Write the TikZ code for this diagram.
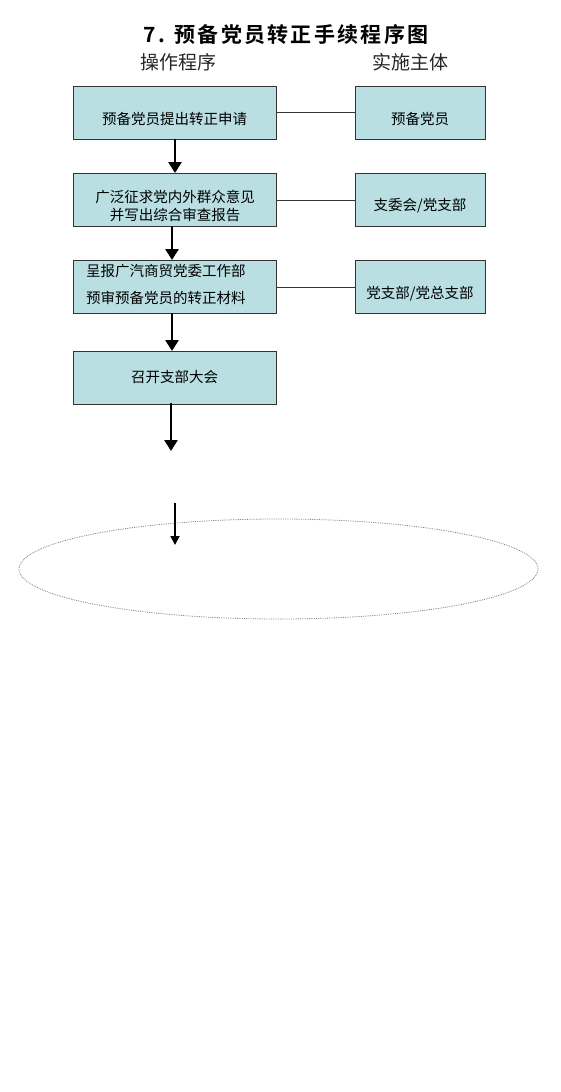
\documentclass[tikz,border=0pt]{standalone}
\usepackage{fontspec}
\setmainfont{Liberation Sans}
\newfontfamily\cjk{Noto Sans CJK SC}
\newfontfamily\cjkb[LetterSpace=11]{Noto Sans CJK SC Bold}
\usetikzlibrary{arrows.meta,shapes.geometric}
\definecolor{boxfill}{HTML}{B9DFE3}
\begin{document}
\begin{tikzpicture}[x=1pt,y=-1pt,
  stepbox/.style={draw=black!80,line width=0.8pt,fill=boxfill,minimum width=203pt,minimum height=53pt,inner sep=0pt,anchor=north west},
  actorbox/.style={draw=black!80,line width=0.8pt,fill=boxfill,minimum width=130pt,minimum height=53pt,inner sep=0pt,anchor=north west},
  boxtext/.style={font=\cjk\fontsize{14.5}{18}\selectfont,inner sep=0pt},
  flow/.style={line width=2.6pt,-{Triangle[length=11pt,width=13pt]}},
  thinflow/.style={line width=1.8pt,-{Triangle[length=9pt,width=9pt]}},
  link/.style={line width=0.8pt,black!80}]
\useasboundingbox (0,0) rectangle (560,1092);
\node[font=\cjkb\fontsize{21}{24}\selectfont] (title) at (286,35) {7. 预备党员转正手续程序图};
\node[font=\cjk\fontsize{19}{22}\selectfont,text=black!85] (h1) at (178,62) {操作程序};
\node[font=\cjk\fontsize{19}{22}\selectfont,text=black!85] (h2) at (410,62) {实施主体};
\node[stepbox] (s1) at (73,86) {};
\node[boxtext] (t1) at (174.5,119) {预备党员提出转正申请};
\node[actorbox] (a1) at (355,86) {};
\node[boxtext] (ta1) at (420,119) {预备党员};
\node[stepbox] (s2) at (73,173) {};
\node[boxtext,align=center,font=\cjk\fontsize{14.5}{18}\selectfont] (t2) at (175,206) {广泛征求党内外群众意见\\并写出综合审查报告};
\node[actorbox] (a2) at (355,173) {};
\node[boxtext] (ta2) at (420,206) {支委会/党支部};
\node[stepbox] (s3) at (73,260) {};
\node[boxtext,anchor=west] (t3a) at (86,271) {呈报广汽商贸党委工作部};
\node[boxtext,anchor=west] (t3b) at (86,298) {预审预备党员的转正材料};
\node[actorbox] (a3) at (355,260) {};
\node[boxtext] (ta3) at (420,294) {党支部/党总支部};
\node[stepbox] (s4) at (73,351) {};
\node[boxtext] (t4) at (174.5,377) {召开支部大会};
\node[draw=black!50,densely dotted,line width=0.8pt,ellipse,minimum width=519pt,minimum height=100pt] (ell) at (278.5,569) {};
\coordinate (e4) at (171,451);
\coordinate (b5) at (175,503);
\coordinate (e5) at (175,545);
\draw[link] (s1.east |- 0,112) -- (a1.west |- 0,112);
\draw[link] (s2.east |- 0,200) -- (a2.west |- 0,200);
\draw[link] (s3.east |- 0,287) -- (a3.west |- 0,287);
\draw[flow] (175,139) -- (175,173);
\draw[flow] (172,226) -- (172,260);
\draw[flow] (172,313) -- (172,351);
\draw[flow] (171,403) -- (e4);
\draw[thinflow] (b5) -- (e5);
\end{tikzpicture}
\end{document}
